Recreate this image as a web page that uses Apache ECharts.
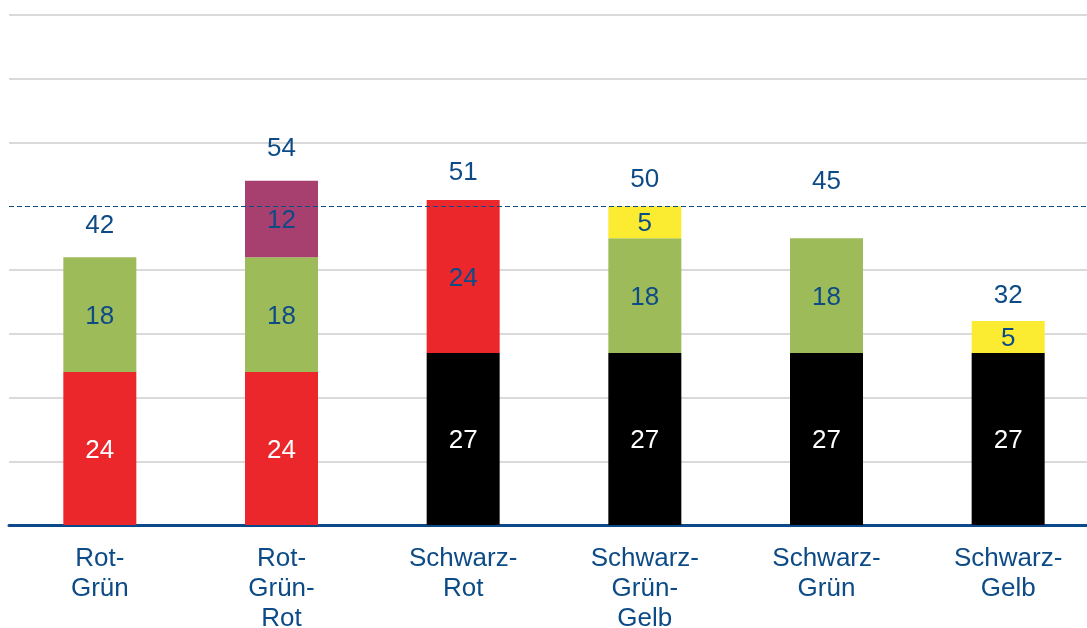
<!DOCTYPE html>
<html>
<head>
<meta charset="utf-8">
<script src="https://cdn.jsdelivr.net/npm/echarts@6/dist/echarts.min.js"></script>
<style>
  html, body { margin: 0; padding: 0; background: #fff; }
  #main { width: 1087px; height: 628px; }
</style>
</head>
<body>
<div id="main"></div>
<script>
// Koalitionen (Kategorien)
const koalitionen = ['Rot-\nGrün', 'Rot-\nGrün-\nRot', 'Schwarz-\nRot', 'Schwarz-\nGrün-\nGelb', 'Schwarz-\nGrün', 'Schwarz-\nGelb'];
// Sitzanteile je Partei
const schwarz = [null, null, 27, 27, 27, 27];
const rot     = [24, 24, 24, null, null, null];
const gruen   = [18, 18, null, 18, 18, null];
const lila    = [null, 12, null, null, null, null];
const gelb    = [null, null, null, 5, null, 5];
// Mehrheitslinie
const mehrheit = 50;

const blau = '#0d4b87';

// Summe pro Koalition
const summen = koalitionen.map((k, i) =>
  [schwarz, rot, gruen, lila, gelb].reduce((s, arr) => s + (arr[i] || 0), 0));

// Abstand der Summenlabels über dem Balken (px)
const labelAbstand = [31, 32, 27, 26, 56, 25];

let myChart = echarts.init(document.getElementById('main'));

function segment(name, werte, farbe, textFarbe) {
  return {
    name: name,
    type: 'bar',
    stack: 'summe',
    barWidth: 73,
    itemStyle: { color: farbe },
    label: {
      show: true,
      position: 'inside',
      offset: [0, 2],
      fontSize: 26,
      fontFamily: 'Liberation Sans',
      formatter: p => p.value == null ? '' : p.value
    },
    data: werte.map((v, i) => ({
      value: v,
      label: { color: typeof textFarbe === 'function' ? textFarbe(i) : textFarbe }
    }))
  };
}

let option = {
  animation: false,
  grid: { left: 9, width: 1090, top: 15, bottom: 103, outerBoundsMode: 'none', containLabel: false },
  xAxis: {
    type: 'category',
    data: koalitionen,
    axisLine: { lineStyle: { color: '#0a4a8a', width: 3 } },
    axisTick: { show: false },
    axisLabel: {
      color: blau,
      fontSize: 26,
      lineHeight: 30,
      margin: 19,
      fontFamily: 'Liberation Sans'
    }
  },
  yAxis: {
    type: 'value',
    min: 0,
    max: 80,
    interval: 10,
    axisLabel: { show: false },
    axisLine: { show: false },
    axisTick: { show: false },
    splitLine: {
      lineStyle: {
        width: 2,
        color: ['#dadada', '#dadada', '#dadada', '#dadada', '#dadada', 'rgba(0,0,0,0)', '#dadada', '#dadada', '#dadada']
      }
    }
  },
  series: [
    segment('Schwarz', schwarz, '#000000', '#ffffff'),
    segment('Rot', rot, '#ec272b', i => (i < 2 ? '#ffffff' : blau)),
    segment('Grün', gruen, '#9dbb59', blau),
    segment('Lila', lila, '#a8406f', blau),
    segment('Gelb', gelb, '#fbeb31', blau),
    {
      name: 'Summe',
      type: 'scatter',
      symbolSize: 0,
      z: 5,
      itemStyle: { opacity: 1 },
      data: summen.map((v, i) => ({
        value: v,
        label: { offset: [0, -labelAbstand[i]] }
      })),
      label: {
        show: true,
        position: 'inside',
        color: blau,
        fontSize: 26,
        fontFamily: 'Liberation Sans'
      },
      markLine: {
        silent: true,
        symbol: 'none',
        label: { show: false },
        lineStyle: { color: blau, width: 1, type: [5, 3], opacity: 1 },
        data: [{ yAxis: mehrheit }]
      }
    }
  ]
};

myChart.setOption(option);
</script>
</body>
</html>
